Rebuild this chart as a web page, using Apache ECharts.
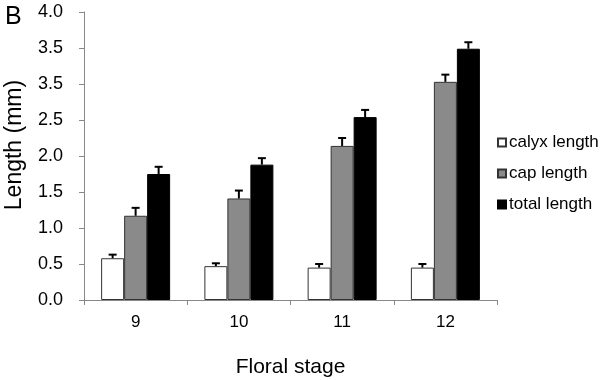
<!DOCTYPE html>
<html><head><meta charset="utf-8">
<script src="https://cdn.jsdelivr.net/npm/echarts@6/dist/echarts.min.js"></script>
<style>html,body{margin:0;padding:0;background:#fff}#c{width:600px;height:380px}</style>
</head><body><div id="c"></div>
<script>
var categories = ['9', '10', '11', '12'];
var seriesNames = ['calyx length', 'cap length', 'total length'];
var calyx = [0.58, 0.47, 0.45, 0.45];
var calyxErr = [0.05, 0.04, 0.05, 0.05];
var cap = [1.17, 1.41, 2.14, 3.03];
var capErr = [0.11, 0.11, 0.11, 0.10];
var total = [1.75, 1.88, 2.54, 3.49];
var totalErr = [0.10, 0.09, 0.10, 0.09];
var yTickLabels = ['0.0', '0.5', '1.0', '1.5', '2.0', '2.5', '3.5', '3.5', '4.0'];

var FONT = 'Liberation Sans, Arial, sans-serif';
var BW = 23;
var values = [calyx, cap, total];
var errs = [calyxErr, capErr, totalErr];
var fills = ['#ffffff', '#8a8a8a', '#000000'];
var borders = ['#333333', '#333333', '#000000'];

var chart = echarts.init(document.getElementById('c'), null, {renderer: 'canvas'});
var series = [];
values.forEach(function (vals, i) {
  series.push({
    name: seriesNames[i], type: 'bar', data: vals, barWidth: BW, barGap: '0%',
    itemStyle: {color: fills[i], borderColor: borders[i], borderWidth: 1},
    z: 2
  });
});
values.forEach(function (vals, i) {
  var errData = vals.map(function (v, k) { return [k, v, v + errs[i][k]]; });
  series.push({
    type: 'custom', name: seriesNames[i] + ' err', data: errData, z: 3,
    renderItem: function (params, api) {
      var c0 = api.coord([api.value(0), api.value(1)]);
      var c1 = api.coord([api.value(0), api.value(2)]);
      var x = c0[0] + (i - 1) * BW;
      return {type: 'group', children: [
        {type: 'line', shape: {x1: x, y1: c0[1], x2: x, y2: c1[1]}, style: {stroke: '#000', lineWidth: 2}},
        {type: 'line', shape: {x1: x - 4, y1: c1[1], x2: x + 4, y2: c1[1]}, style: {stroke: '#000', lineWidth: 2}}
      ]};
    },
    encode: {x: 0, y: [1, 2]}
  });
});

chart.setOption({
  animation: false,
  textStyle: {fontFamily: FONT},
  title: {text: 'B', left: 0, top: 0, textStyle: {fontFamily: FONT, fontSize: 25, fontWeight: 'normal', color: '#000'}},
  legend: {
    data: seriesNames, orient: 'vertical', left: 492, top: 129,
    itemWidth: 8, itemHeight: 8, itemGap: 14, icon: 'rect',
    textStyle: {fontFamily: FONT, fontSize: 17, color: '#000', padding: [0, 0, 0, -2]}
  },
  grid: {left: 84, right: 103, top: 12, bottom: 80, containLabel: false, outerBoundsMode: 'none'},
  xAxis: {
    type: 'category', data: categories,
    name: 'Floral stage', nameLocation: 'middle', nameGap: 57,
    nameTextStyle: {fontFamily: FONT, fontSize: 21, color: '#000'},
    axisLine: {lineStyle: {color: '#888', width: 1}},
    axisTick: {show: true, alignWithLabel: false, length: 5, lineStyle: {color: '#888'}},
    axisLabel: {fontFamily: FONT, fontSize: 17, color: '#000', margin: 14}
  },
  yAxis: {
    type: 'value', min: 0, max: 4, interval: 0.5,
    name: 'Length (mm)', nameLocation: 'middle', nameGap: 58, nameRotate: 90,
    nameTextStyle: {fontFamily: FONT, fontSize: 23, color: '#000', padding: [0, 0, 0, 22]},
    axisLine: {show: true, lineStyle: {color: '#888', width: 1}},
    axisTick: {show: true, length: 5, lineStyle: {color: '#888'}},
    splitLine: {show: false},
    axisLabel: {fontFamily: FONT, fontSize: 18, color: '#000', margin: 21,
      formatter: function (v) { return yTickLabels[Math.round(v / 0.5)]; }}
  },
  series: series
});
</script></body></html>
